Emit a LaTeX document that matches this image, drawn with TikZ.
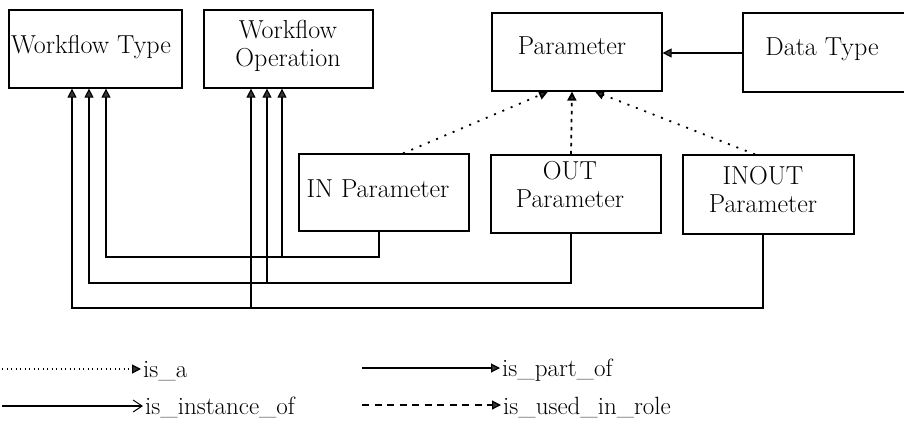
\documentclass[tikz,border=0pt]{standalone}
\usetikzlibrary{arrows.meta}
\begin{document}
\begin{tikzpicture}[x=1pt,y=-1pt,
  box/.style={draw, line width=1.2pt, rectangle, inner sep=0pt},
  lbl/.style={font=\fontsize{26}{28}\selectfont, align=center, inner sep=0pt},
  lg/.style={font=\fontsize{25}{28}\selectfont, inner sep=0pt},
  tri/.style={-{Triangle[length=9pt,width=9pt,fill=black!80]}},
  partof/.style={line width=1.1pt, tri},
  isa/.style={line width=1.8pt, dash pattern=on 2pt off 7pt, tri},
  role/.style={line width=1.8pt, dash pattern=on 3.5pt off 4.5pt, tri},
  isalg/.style={line width=1.2pt, dash pattern=on 1.2pt off 3.3pt, tri},
  rolelg/.style={line width=1.2pt, dash pattern=on 7pt off 5.5pt, tri},
  instlg/.style={line width=1.2pt, -{Straight Barb[length=9pt,width=12pt,line width=1pt]}},
]
\useasboundingbox (0,0) rectangle (904,421);
\clip (0,0) rectangle (904,421);

% boxes
\node[box, minimum width=173pt, minimum height=78pt] (wt)  at (95.5,49)   {};
\node[box, minimum width=169pt, minimum height=78pt] (wo)  at (288.5,49)  {};
\node[box, minimum width=170pt, minimum height=78pt] (p)   at (577,52)    {};
\node[box, minimum width=167pt, minimum height=79pt] (dt)  at (826.5,52.5){};
\node[box, minimum width=170pt, minimum height=77pt] (inp) at (384,192.5) {};
\node[box, minimum width=170pt, minimum height=78pt] (outp) at (576,194)  {};
\node[box, minimum width=171pt, minimum height=79pt] (iop) at (768.5,194.5){};

% box texts
\node[lbl, anchor=base] (wtT)  at (91,53)    {Workflow Type};
\node[lbl]              (woT)  at (288,45.5) {Workflow\\Operation};
\node[lbl, anchor=base] (pT)   at (572,54)   {Parameter};
\node[lbl, anchor=base] (dtT)  at (822,55)   {Data Type};
\node[lbl, anchor=base] (inT)  at (378,197)  {IN Parameter};
\node[lbl]              (outT) at (570,185)  {OUT\\Parameter};
\node[lbl]              (ioT)  at (763,190)  {INOUT\\Parameter};

% columns and rows of the instance connectors
\coordinate (cA) at (72,0);  \coordinate (cB) at (89,0);  \coordinate (cC) at (106,0);
\coordinate (dA) at (251,0); \coordinate (dB) at (267,0); \coordinate (dC) at (282,0);
\coordinate (inb)  at (379,257);
\coordinate (outb) at (571,283);
\coordinate (iob)  at (763,308);

\draw[partof] (inp.south -| inb) -- (inb) -| (wt.south -| cC);
\draw[partof] (inb) -| (wo.south -| dC);
\draw[partof] (outp.south -| outb) -- (outb) -| (wt.south -| cB);
\draw[partof] (outb) -| (wo.south -| dB);
\draw[partof] (iop.south -| iob) -- (iob) -| (wt.south -| cA);
\draw[partof] (iob) -| (wo.south -| dA);

% data type to parameter
\coordinate (dtrow) at (0,53);
\draw[partof] (dt.west |- dtrow) -- (p.east |- dtrow);

% specialisations of parameter
\coordinate (s1) at (403,0); \coordinate (t1) at (548,0);
\coordinate (s2) at (571,0); \coordinate (t2) at (572,0);
\coordinate (s3) at (755,0); \coordinate (t3) at (595,0);
\draw[isa]  (inp.north -| s1) -- (p.south -| t1);
\draw[role] (outp.north -| s2) -- (p.south -| t2);
\draw[isa]  (iop.north -| s3) -- (p.south -| t3);

% legend
\node[lg, anchor=base west] (la) at (143,377) {is\_a};
\node[lg, anchor=base west] (lp) at (502,376) {is\_part\_of};
\node[lg, anchor=base west] (li) at (145,414) {is\_instance\_of};
\node[lg, anchor=base west] (lr) at (503,414) {is\_used\_in\_role};
\coordinate (la0) at (2,369);
\coordinate (lp0) at (362,368);
\coordinate (li0) at (2,406);
\coordinate (lr0) at (362,405);
\draw[isalg]  (la0) -- ([xshift=-2pt]la0 -| la.west);
\draw[partof] (lp0) -- ([xshift=-2pt]lp0 -| lp.west);
\draw[instlg] (li0) -- ([xshift=-2pt]li0 -| li.west);
\draw[rolelg] (lr0) -- ([xshift=-2pt]lr0 -| lr.west);
\end{tikzpicture}
\end{document}
